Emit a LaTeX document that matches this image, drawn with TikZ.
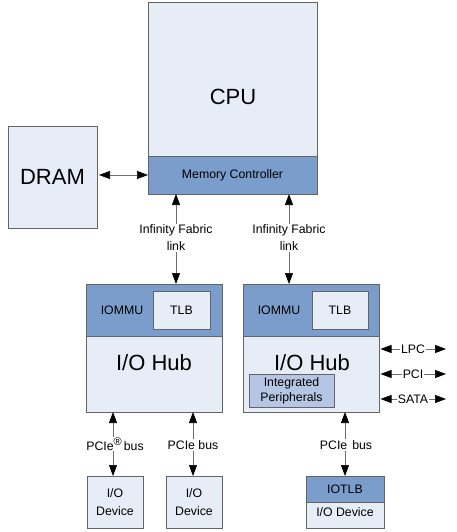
\documentclass[tikz,border=0pt]{standalone}
\usepackage{fontspec}
\setmainfont{Liberation Sans}
\usetikzlibrary{arrows.meta}
\definecolor{lightbox}{RGB}{231,237,247}
\definecolor{darkband}{RGB}{123,157,204}
\definecolor{midbox}{RGB}{181,198,228}
\definecolor{border}{RGB}{100,100,100}
\definecolor{linkgray}{RGB}{110,110,110}
\begin{document}
\begin{tikzpicture}[x=1pt,y=-1pt,
  box/.style={draw=border, line width=0.9pt, fill=lightbox, anchor=north west, inner sep=0pt, outer sep=0pt},
  band/.style={box, fill=darkband},
  big/.style={font=\fontsize{22}{26}\selectfont},
  small/.style={font=\fontsize{12.3}{17}\selectfont, align=center},
  link/.style={draw=linkgray, line width=0.7pt, {Triangle[length=11pt,width=8pt,color=black]}-{Triangle[length=11pt,width=8pt,color=black]}},
  lbl/.style={small, fill=white, inner sep=1pt},
]
\useasboundingbox (0,0) rectangle (456,532);

% CPU and memory controller
\node[box, minimum width=169pt, minimum height=192pt] (cpu) at (148,2) {};
\node[band, minimum width=169pt, minimum height=38pt, small] (mc) at (148,156) {Memory Controller};
\node[big] (cputext) at (233,97) {CPU};

% DRAM
\node[box, minimum width=89pt, minimum height=102pt, big] (dram) at (8,126) {DRAM};
\draw[link, shorten <=2pt] (mc.west -| dram.east) -- (mc.west);

% I/O Hub 1
\node[box, minimum width=136pt, minimum height=128pt] (hub1) at (86,284) {};
\node[band, minimum width=136pt, minimum height=52pt] (iommu1) at (86,284) {};
\node[small] (iommu1t) at (122,310) {IOMMU};
\node[box, minimum width=57pt, minimum height=38pt, small] (tlb1) at (153,291) {TLB};
\node[big] (hub1t) at (154,363) {I/O Hub};

% I/O Hub 2
\node[box, minimum width=136pt, minimum height=128pt] (hub2) at (243,284) {};
\node[band, minimum width=136pt, minimum height=52pt] (iommu2) at (243,284) {};
\node[small] (iommu2t) at (279,310) {IOMMU};
\node[box, minimum width=56pt, minimum height=38pt, small] (tlb2) at (312,291) {TLB};
\node[big] (hub2t) at (312,363) {I/O Hub};
\node[box, fill=midbox, minimum width=85pt, minimum height=33pt, font=\fontsize{12.3}{15}\selectfont, align=center] (periph) at (249,374) {Integrated\\Peripherals};

% Infinity Fabric links
\coordinate (l1) at (176,238);
\coordinate (l2) at (289,238);
\draw[link] (mc.south -| l1) -- (hub1.north -| l1);
\draw[link] (mc.south -| l2) -- (hub2.north -| l2);
\node[lbl] (l1t) at (l1) {Infinity Fabric\\link};
\node[lbl] (l2t) at (l2) {Infinity Fabric\\link};

% Side buses
\coordinate (lpcR) at (446,349);
\coordinate (pciR) at (446,374);
\coordinate (sataR) at (446,399);
\draw[link, shorten <=1.5pt] (hub2.east |- lpcR) -- (lpcR);
\draw[link, shorten <=1.5pt] (hub2.east |- pciR) -- (pciR);
\draw[link, shorten <=1.5pt] (hub2.east |- sataR) -- (sataR);
\node[lbl] (lpct) at (413,349) {LPC};
\node[lbl] (pcit) at (413,374) {PCI};
\node[lbl] (satat) at (413,399) {SATA};

% Devices
\node[box, minimum width=56pt, minimum height=52pt, font=\fontsize{12.3}{18}\selectfont, align=center] (dev1) at (87,476) {I/O\\Device};
\node[box, minimum width=56pt, minimum height=52pt, font=\fontsize{12.3}{18}\selectfont, align=center] (dev2) at (166,476) {I/O\\Device};
\node[box, minimum width=78pt, minimum height=52pt] (dev3) at (306,476) {};
\node[band, minimum width=78pt, minimum height=26pt, small] (iotlb) at (306,476) {IOTLB};
\node[small] (dev3t) at (345,512) {I/O Device};

% PCIe buses
\coordinate (b1) at (113,445);
\coordinate (b2) at (193,445);
\coordinate (b3) at (345,445);
\draw[link] (hub1.south -| b1) -- (dev1.north -| b1);
\draw[link] (hub1.south -| b2) -- (dev2.north -| b2);
\draw[link] (hub2.south -| b3) -- (dev3.north -| b3);
\node[lbl] (b1t) at (115,444) {PCIe\raisebox{5pt}{\fontsize{11}{11}\selectfont\textregistered}\,bus};
\node[lbl] (b2t) at (b2) {PCIe bus};
\node[lbl] (b3t) at (346,445) {PCIe\hspace{5pt}bus};
\end{tikzpicture}
\end{document}
